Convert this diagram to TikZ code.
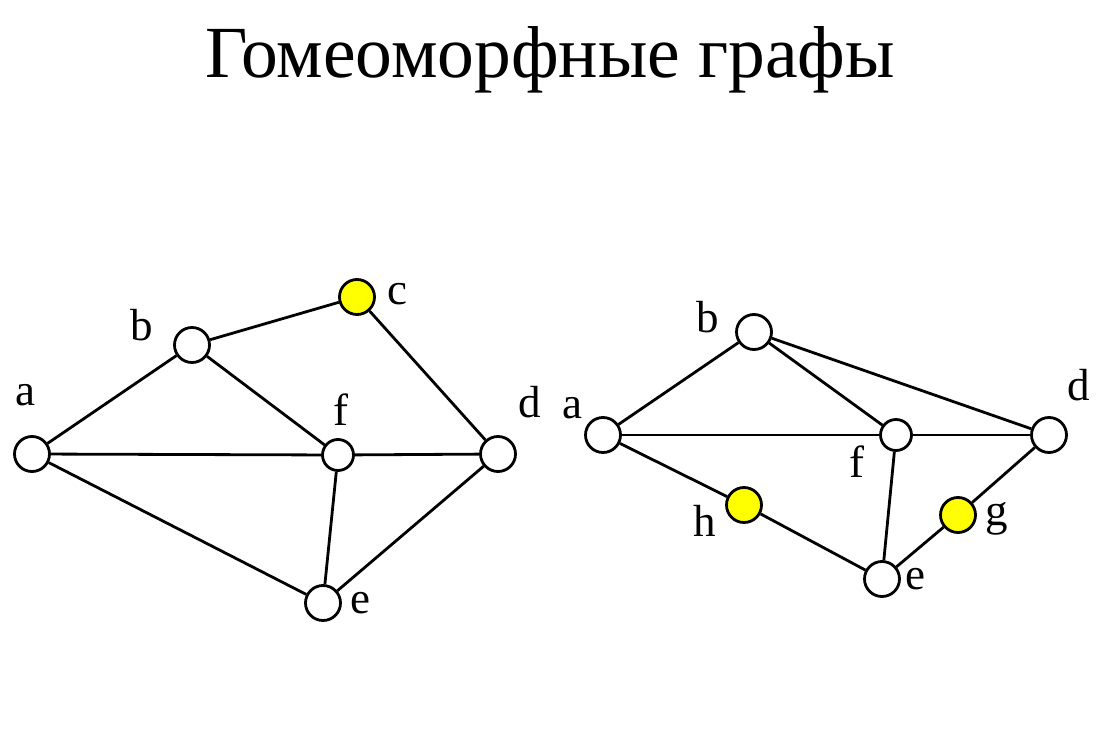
\documentclass[tikz,border=0pt]{standalone}
\usepackage{fontspec}
\setmainfont{Liberation Serif}
\definecolor{vertexyellow}{RGB}{255,255,0}
\tikzset{
  vertex/.style={circle,draw=black,fill=white,line width=2.8pt,minimum size=35pt,inner sep=0pt},
  small/.style={vertex,minimum size=31pt},
  marked/.style={vertex,fill=vertexyellow},
  vlabel/.style={inner sep=0pt,font=\fontsize{45}{45}\selectfont},
  edge/.style={line width=2.8pt}
}
\begin{document}
\begin{tikzpicture}[x=1pt,y=-1pt]
  \useasboundingbox (0,0) rectangle (1105,743);
  \node[anchor=base,inner sep=0pt,font=\fontsize{73.5}{73.5}\selectfont] (title) at (550,78) {Гомеоморфные графы};

  % left graph
  \node[vertex] (la) at (32,454) {};
  \node[vertex] (lb) at (192,345) {};
  \node[marked] (lc) at (357,297) {};
  \node[small]  (lf) at (338,455) {};
  \node[vertex] (ld) at (498,454) {};
  \node[vertex] (le) at (323,603) {};
  \foreach \u/\v in {la/lb,la/lf,la/le,lb/lc,lb/lf,lc/ld,lf/ld,lf/le,ld/le} {
   \draw[edge] (\u) -- (\v);
  }
  \foreach \n/\t/\x/\y in {la/a/25/395,lb/b/142/325,lc/c/397/294,lf/f/341/410,ld/d/530/402,le/e/360/603} {
   \node[vlabel] (\n-lbl) at (\x,\y) {\t};
  }

  % right graph
  \node[vertex] (ra) at (603,435) {};
  \node[vertex] (rb) at (754,332) {};
  \node[small]  (rf) at (896,435) {};
  \node[vertex] (rd) at (1049,435) {};
  \node[marked] (rh) at (744,505) {};
  \node[marked] (rg) at (958,515) {};
  \node[vertex] (re) at (882,579) {};
  \foreach \u/\v in {ra/rb,ra/rf,ra/rh,rh/re,rb/rf,rb/rd,rf/rd,rf/re,re/rg,rg/rd} {
   \draw[edge] (\u) -- (\v);
  }
  \foreach \n/\t/\x/\y in {ra/a/572/408,rb/b/708/317,rf/f/857/462,rd/d/1079/385,rh/h/705/521,rg/g/997/519,re/e/915/579} {
   \node[vlabel] (\n-lbl) at (\x,\y) {\t};
  }
\end{tikzpicture}
\end{document}
